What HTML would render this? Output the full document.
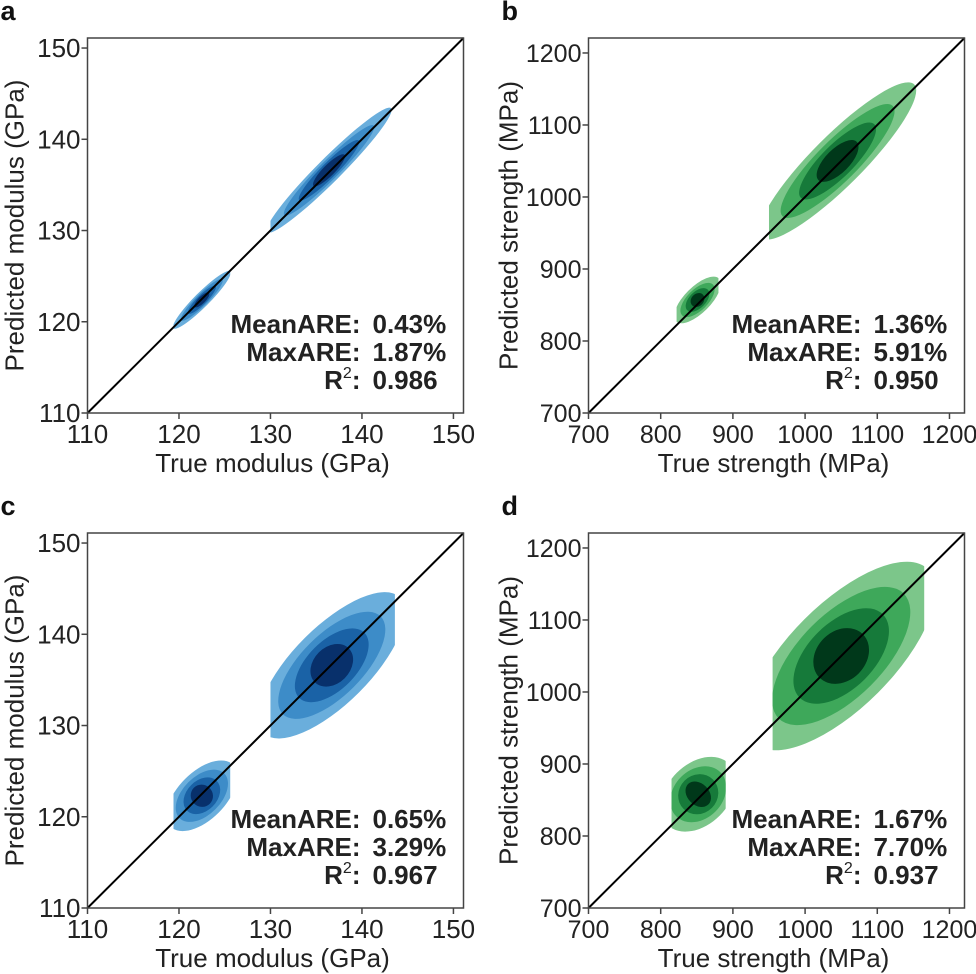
<!DOCTYPE html>
<html><head><meta charset="utf-8"><style>
html,body{margin:0;padding:0;background:#fff;}
svg{display:block;font-family:"Liberation Sans",sans-serif;}
</style></head><body>
<svg id="fig" width="976" height="974" viewBox="0 0 976 974"></svg>
<script>
// ---- data ----
const panelLetters = ['a','b','c','d'];
const modTicks = [110,120,130,140,150];
const strTicks = [700,800,900,1000,1100,1200];
const modDomain = [110,151.1];
const strDomain = [700,1220.8];
// cluster params: [xCenter, yCenter, xMin, xMax, alongHalfLen, perpHalfWidth]
const clustersA = [[122.5,122.4,119.4,125.6,4.4,0.8],[136.4,136.6,130,143.6,9.6,1.3]];
const clustersB = [[851,857,822,880,42,18],[1045,1050,950,1160,150,35]];
const clustersC = [[122.5,122.3,119.4,125.6,4.8,2.6],[136.7,136.6,130,143.6,10.5,4.2]];
const clustersD = [[852,858,815,890,60,42],[1050,1050,955,1165,170,72]];
const statsA = ['0.43%','1.87%','0.986'];
const statsB = ['1.36%','5.91%','0.950'];
const statsC = ['0.65%','3.29%','0.967'];
const statsD = ['1.67%','7.70%','0.937'];
const blues = ['#6aaedc','#3d8cc8','#1a62a6','#08306b'];
const greens = ['#7cc68a','#3ea85a','#167a3a','#00381a'];

const NS='http://www.w3.org/2000/svg';
const svg=document.getElementById('fig');
function mk(tag,attrs,parent){const e=document.createElementNS(NS,tag);for(const k in attrs)e.setAttribute(k,attrs[k]);(parent||svg).appendChild(e);return e;}

function panel(idx,left,top,domain,ticks,clusters,colors,stats,xt,yt,titleOff,tickFs){
  const W=376,H=375;
  const g=mk('g',{});
  
  
  const sx=v=>left+(v-domain[0])/(domain[1]-domain[0])*W;
  const sy=v=>top+H-(v-domain[0])/(domain[1]-domain[0])*H;
  const lt=mk('text',{x:left-87,y:top-18,'font-size':27,'font-weight':'bold',fill:'#111'},g);
  lt.textContent=panelLetters[idx];
  
  
  const cid='clip'+idx;
  const defs=mk('defs',{},g);
  clusters.forEach((c,ci)=>{
    const cp=mk('clipPath',{id:cid+'_'+ci},defs);
    mk('rect',{x:sx(c[2]),y:top,width:sx(c[3])-sx(c[2]),height:H},cp);
    const cg=mk('g',{'clip-path':'url(#'+cid+'_'+ci+')'},g);
    
    
    const cx=sx(c[0]),cy=sy(c[1]);
    const pxPer=W/(domain[1]-domain[0]);
    const scales=[1,0.72,0.48,0.25];
    scales.forEach((s,li)=>{
      const e=mk('ellipse',{cx:cx,cy:cy,rx:c[4]*pxPer*s,ry:c[5]*pxPer*(0.3+0.7*s),fill:colors[li],transform:'rotate(-45 '+cx+' '+cy+')'},cg);
      
      
    });
  });
  const dl=mk('line',{x1:sx(domain[0]),y1:sy(domain[0]),x2:sx(domain[1]),y2:sy(domain[1]),stroke:'#000','stroke-width':2},g);
  
  
  const fr=mk('rect',{x:left,y:top,width:W,height:H,fill:'none',stroke:'#444','stroke-width':1.5},g);
  
  
  ticks.forEach(t=>{
    mk('line',{x1:sx(t),y1:top+H,x2:sx(t),y2:top+H+6,stroke:'#444','stroke-width':1.5},g);
    const tx=mk('text',{x:sx(t),y:top+H+30,'font-size':tickFs,'text-anchor':'middle',fill:'#222'},g);
    tx.textContent=t;
    
    
    mk('line',{x1:left-6,y1:sy(t),x2:left,y2:sy(t),stroke:'#444','stroke-width':1.5},g);
    const ty=mk('text',{x:left-7,y:sy(t)+9,'font-size':tickFs,'text-anchor':'end',fill:'#222'},g);
    ty.textContent=t;
    
    
  });
  const xa=mk('text',{x:left+W/2-3,y:top+H+59,'font-size':26,'text-anchor':'middle',fill:'#222'},g);
  xa.textContent=xt;
  
  
  const ya=mk('text',{x:0,y:0,'font-size':26,'text-anchor':'middle',fill:'#222',transform:'translate('+(left-titleOff)+','+(top+H/2)+') rotate(-90)'},g);
  ya.textContent=yt;
  
  
  const labels=['MeanARE:','MaxARE:','R'];
  const names=['mean-are-stat','max-are-stat','r2-stat'];
  for(let i=0;i<3;i++){
    const y=top+295+i*28;
    const l=mk('text',{x:left+273,y:y,'font-size':26,'font-weight':'bold','text-anchor':'end',fill:'#222'},g);
    if(i<2){l.textContent=labels[i];}
    else{l.textContent='R';const sp=mk('tspan',{'font-size':16,dy:-11,'font-weight':'normal'},l);sp.textContent='2';const s2=mk('tspan',{dy:11},l);s2.textContent=':';}
    
    
    const v=mk('text',{x:left+285,y:y,'font-size':26,'font-weight':'bold',fill:'#222'},g);
    v.textContent=stats[i];
    
    
  }
}
panel(0,87.5,38,modDomain,modTicks,clustersA,blues,statsA,'True modulus (GPa)','Predicted modulus (GPa)',64,26);
panel(1,588.5,38,strDomain,strTicks,clustersB,greens,statsB,'True strength (MPa)','Predicted strength (MPa)',71,25);
panel(2,87.5,533,modDomain,modTicks,clustersC,blues,statsC,'True modulus (GPa)','Predicted modulus (GPa)',64,26);
panel(3,588.5,533,strDomain,strTicks,clustersD,greens,statsD,'True strength (MPa)','Predicted strength (MPa)',71,25);
</script>
</body></html>
